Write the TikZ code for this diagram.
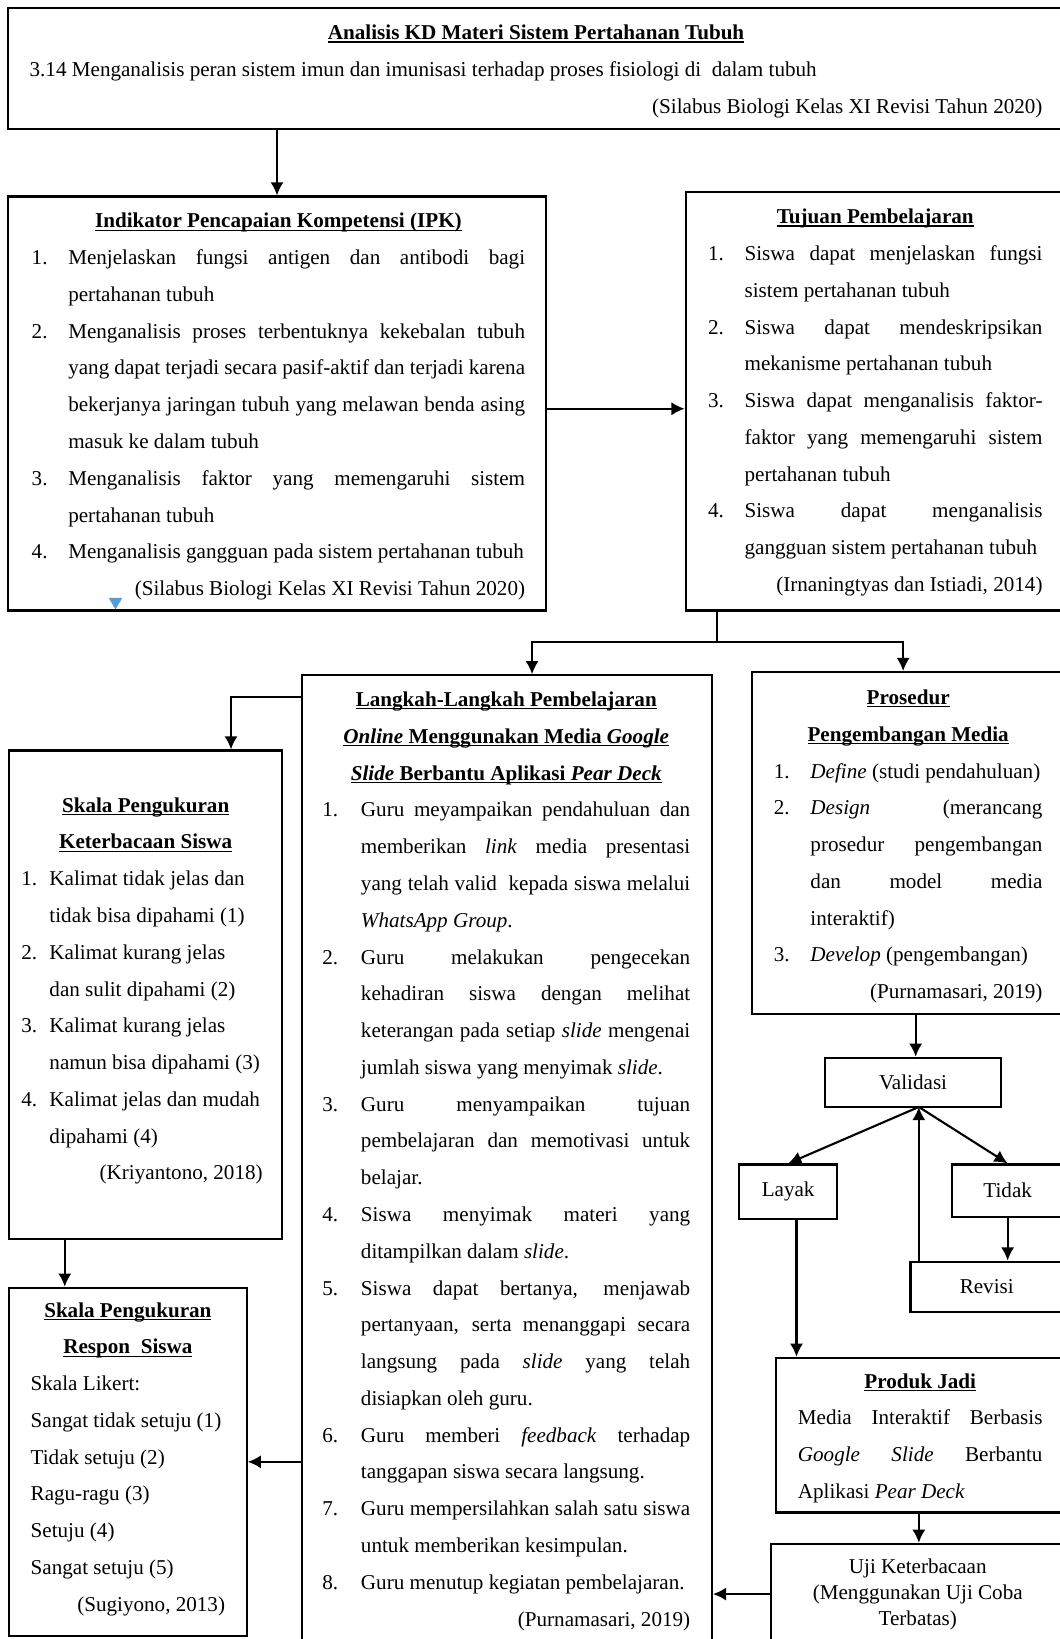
\documentclass[tikz,border=0pt]{standalone}
\usepackage{fontspec}
\setmainfont{Liberation Serif}
\usetikzlibrary{arrows.meta,fit}
\definecolor{penanda}{RGB}{91,155,213}
\hyphenpenalty=10000
\exhyphenpenalty=10000
\newlength{\pxl}
\setlength{\pxl}{0.594pt}
\newlength{\butirind}
\newcommand{\butir}[2]{\endgraf\hangindent=\butirind\hangafter=1\noindent\makebox[\butirind][l]{#1}#2\endgraf}
\newcommand{\garisbawah}[1]{\setbox0\hbox{#1}\rlap{\rule[-1.6pt]{\wd0}{0.6pt}}\box0}
\newcommand{\sumber}[1]{\endgraf\noindent\hfill#1\endgraf}
\newcommand{\judul}[1]{{\centering#1\endgraf}}

\begin{document}
\begin{tikzpicture}[x=0.594pt, y=-0.594pt,
    kotak/.style={draw, line width=1.2pt, inner sep=0pt, font=\fontsize{12pt}{14.8pt}\selectfont},
    isi/.style={inner sep=0pt, anchor=base west, text width=#1*\pxl,
                font=\fontsize{12pt}{20.9pt}\selectfont, align=justify},
    alur/.style={->, >={Latex[length=7.5pt,width=7.5pt]}, line width=1.2pt},
    garis/.style={line width=1.2pt}
]
    \useasboundingbox (0,0) rectangle (1014,1568);
    \clip (0,0) rectangle (1014,1568);

    % Boxes
    \node[kotak, fit={(8,8) (1030,123)}] (kd) {};
    \node[kotak, fit={(8,188) (522,584)}] (ipk) {};
    \node[kotak, fit={(656,184) (1030,584)}] (tujuan) {};
    \node[kotak, fit={(289,646) (681,1580)}] (langkah) {};
    \node[kotak, fit={(9,718) (270,1185)}] (keterbacaan) {};
    \node[kotak, fit={(9,1232) (236,1565)}] (respon) {};
    \node[kotak, fit={(719,643) (1033,970)}] (prosedur) {};
    \node[kotak, fit={(742,1299) (1016,1447)}] (produk) {};
    \node[kotak, minimum width=169*\pxl, minimum height=47*\pxl] (validasi) at (873.5,1035.5) {Validasi};
    \node[kotak, minimum width=94*\pxl, minimum height=52*\pxl] (layak) at (754,1140) {Layak};
    \node[kotak, minimum width=106*\pxl, minimum height=50*\pxl] (tidak) at (964,1139) {Tidak};
    \node[kotak, minimum width=146*\pxl, minimum height=48*\pxl] (revisi) at (944,1231) {Revisi};
    \node[kotak, align=center, minimum width=280*\pxl, minimum height=96*\pxl] (uji) at (878,1525)
         {Uji Keterbacaan\\(Menggunakan Uji Coba\\Terbatas)};

    % Box texts
    \node[isi=969] (kdisi) at (28,38) {%
        \judul{\garisbawah{\textbf{Analisis KD Materi Sistem Pertahanan Tubuh}}}%
        3.14 Menganalisis peran sistem imun dan imunisasi terhadap proses fisiologi di\ \ dalam tubuh%
        \sumber{(Silabus Biologi Kelas XI Revisi Tahun 2020)}};

    \node[isi=472] (ipkisi) at (30,218) {\setlength{\butirind}{35\pxl}%
        \judul{\garisbawah{\textbf{Indikator Pencapaian Kompetensi (IPK)}}}%
        \butir{1.}{Menjelaskan fungsi antigen dan antibodi bagi\linebreak pertahanan tubuh}%
        \butir{2.}{Menganalisis proses terbentuknya kekebalan tubuh\linebreak yang dapat terjadi secara pasif-aktif dan terjadi karena\linebreak bekerjanya jaringan tubuh yang melawan benda asing\linebreak masuk ke dalam tubuh}%
        \butir{3.}{Menganalisis faktor yang memengaruhi sistem\linebreak pertahanan tubuh}%
        \butir{4.}{Menganalisis gangguan pada sistem pertahanan tubuh}%
        \sumber{(Silabus Biologi Kelas XI Revisi Tahun 2020)}};

    \node[isi=320] (tujuanisi) at (677,214) {\setlength{\butirind}{35\pxl}%
        \judul{\garisbawah{\textbf{Tujuan Pembelajaran}}}%
        \butir{1.}{Siswa dapat menjelaskan fungsi\linebreak sistem pertahanan tubuh}%
        \butir{2.}{Siswa dapat mendeskripsikan\linebreak mekanisme pertahanan tubuh}%
        \butir{3.}{Siswa dapat menganalisis faktor-\linebreak faktor yang memengaruhi sistem\linebreak pertahanan tubuh}%
        \butir{4.}{Siswa dapat menganalisis\linebreak gangguan sistem pertahanan tubuh}%
        \sumber{(Irnaningtyas dan Istiadi, 2014)}};

    \node[isi=352] (langkahisi) at (308,676) {\setlength{\butirind}{37\pxl}%
        \judul{\garisbawah{\textbf{Langkah-Langkah Pembelajaran}}\linebreak
               \garisbawah{\textbf{\textit{Online} Menggunakan Media \textit{Google}}}\linebreak
               \garisbawah{\textbf{\textit{Slide} Berbantu Aplikasi \textit{Pear Deck}}}}%
        \butir{1.}{Guru meyampaikan pendahuluan dan\linebreak memberikan \textit{link} media presentasi\linebreak yang telah valid\ \ kepada siswa melalui\linebreak \textit{WhatsApp Group}.}%
        \butir{2.}{Guru melakukan pengecekan\linebreak kehadiran siswa dengan melihat\linebreak keterangan pada setiap \textit{slide} mengenai\linebreak jumlah siswa yang menyimak \textit{slide}.}%
        \butir{3.}{Guru menyampaikan tujuan\linebreak pembelajaran dan memotivasi untuk\linebreak belajar.}%
        \butir{4.}{Siswa menyimak materi yang\linebreak ditampilkan dalam \textit{slide}.}%
        \butir{5.}{Siswa dapat bertanya, menjawab\linebreak pertanyaan, serta menanggapi secara\linebreak langsung pada \textit{slide} yang telah\linebreak disiapkan oleh guru.}%
        \butir{6.}{Guru memberi \textit{feedback} terhadap\linebreak tanggapan siswa secara langsung.}%
        \butir{7.}{Guru mempersilahkan salah satu siswa\linebreak untuk memberikan kesimpulan.}%
        \butir{8.}{Guru menutup kegiatan pembelajaran.}%
        \sumber{(Purnamasari, 2019)}};

    \node[isi=238, align=flush left] (keterbacaanisi) at (20,777) {\setlength{\butirind}{27\pxl}%
        \judul{\garisbawah{\textbf{Skala Pengukuran}}\linebreak\garisbawah{\textbf{Keterbacaan Siswa}}}%
        \butir{1.}{Kalimat tidak jelas dan\linebreak tidak bisa dipahami (1)}%
        \butir{2.}{Kalimat kurang jelas\linebreak dan sulit dipahami (2)}%
        \butir{3.}{Kalimat kurang jelas\linebreak namun bisa dipahami (3)}%
        \butir{4.}{Kalimat jelas dan mudah\linebreak dipahami (4)}%
        \sumber{(Kriyantono, 2018)\kern7\pxl}};

    \node[isi=186, align=flush left] (responisi) at (29,1260) {%
        \judul{\garisbawah{\textbf{Skala Pengukuran}}\linebreak\garisbawah{\textbf{Respon\ \ Siswa}}}%
        Skala Likert:\linebreak Sangat tidak setuju (1)\linebreak Tidak setuju (2)\linebreak
        Ragu-ragu (3)\linebreak Setuju (4)\linebreak Sangat setuju (5)%
        \sumber{(Sugiyono, 2013)}};

    \node[isi=257] (prosedurisi) at (740,674) {\setlength{\butirind}{35\pxl}%
        \judul{\garisbawah{\textbf{Prosedur}}\linebreak\garisbawah{\textbf{Pengembangan Media}}}%
        \butir{1.}{\textit{Define} (studi pendahuluan)}%
        \butir{2.}{\textit{Design} (merancang\linebreak prosedur pengembangan\linebreak dan model media\linebreak interaktif)}%
        \butir{3.}{\textit{Develop} (pengembangan)}%
        \sumber{(Purnamasari, 2019)}};

    \node[isi=234] (produkisi) at (763,1328) {%
        \judul{\garisbawah{\textbf{Produk Jadi}}}%
        Media Interaktif Berbasis\linebreak \textit{Google} \textit{Slide} Berbantu\linebreak Aplikasi \textit{Pear Deck}};

    % small marker under IPK
    \fill[penanda] (104,572) -- (117,572) -- (110.5,583) -- cycle;

    % Helper points for connectors
    \coordinate (cabang) at (686,614);
    \coordinate (kiri) at (509,614);
    \coordinate (kanan) at (864,614);
    \coordinate (belok) at (221,667);
    \coordinate (turun) at (62,1185);
    \coordinate (titik) at (879,1059);
    \coordinate (lurus) at (762,1166);

    % Connectors
    \draw[alur] (ipk.north |- kd.south) -- (ipk.north);
    \draw[alur] ([yshift=-3pt]ipk.east) -- ([yshift=-3pt]ipk.east -| tujuan.west);
    \draw[garis] (tujuan.south -| cabang) -- (cabang);
    \draw[alur] (cabang) -| (langkah.north -| kiri);
    \draw[alur] (cabang) -| (prosedur.north -| kanan);
    \draw[alur] (langkah.west |- belok) -| (keterbacaan.north -| belok);
    \draw[alur] (keterbacaan.south -| turun) -- (respon.north -| turun);
    \draw[alur] (langkah.west |- respon.east) -- (respon.east);
    \draw[alur] (prosedur.south) -- (prosedur.south |- validasi.north);
    \draw[alur] (titik) -- (layak.north);
    \draw[alur] (titik) -- (tidak.north);
    \draw[alur] (tidak.south) -- (tidak.south |- revisi.north);
    \draw[alur] (revisi.north -| titik) -- (titik);
    \draw[alur] (layak.south -| lurus) -- (produk.north -| lurus);
    \draw[alur] (produk.south) -- (produk.south |- uji.north);
    \draw[alur] (uji.west) -- (uji.west -| langkah.east);
\end{tikzpicture}
\end{document}
